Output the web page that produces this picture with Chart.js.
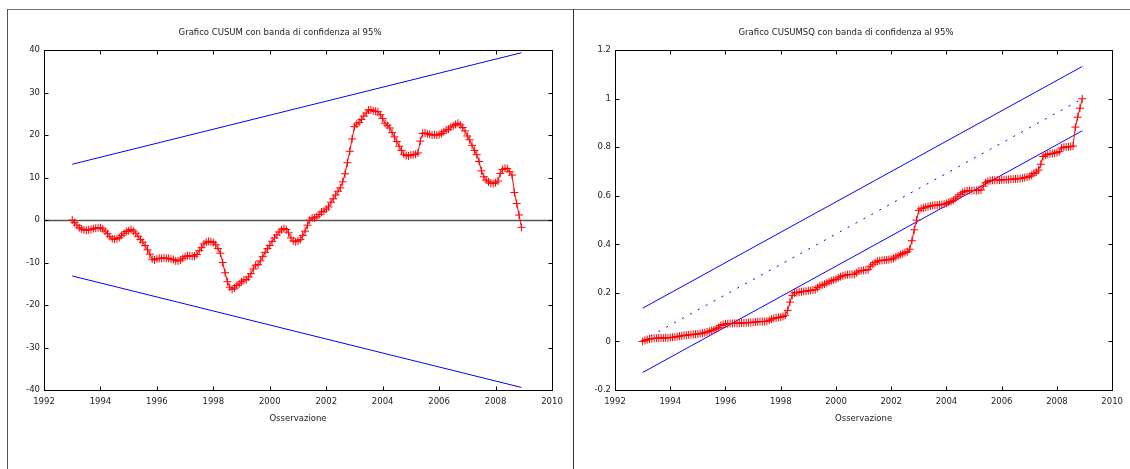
<!DOCTYPE html>
<html>
<head>
<meta charset="utf-8">
<script src="https://cdn.jsdelivr.net/npm/chart.js@4"></script>
<style>
html,body{margin:0;padding:0;background:#fff;}
body{width:1130px;height:469px;position:relative;overflow:hidden;font-family:"DejaVu Sans",sans-serif;}
.ln{position:absolute;background:#707070;}
#c1{position:absolute;left:8px;top:10px;}
#c2{position:absolute;left:574px;top:10px;}
</style>
</head>
<body>
<div class="ln" style="left:7px;top:9px;width:1123px;height:1px;"></div>
<div class="ln" style="left:7px;top:9px;width:1px;height:460px;background:#555;"></div>
<div class="ln" style="left:573px;top:9px;width:1px;height:460px;background:#333;"></div>
<canvas id="c1" width="565" height="459"></canvas>
<canvas id="c2" width="556" height="459"></canvas>
<script>
// ---- data (monthly observations 1993:01 - 2008:12) ----
const firstYear = 1993;
const periodsPerYear = 12;

const cusum = [
  0.0, -0.6, -1.2, -1.8, -2.1, -2.3, -2.4, -2.3, -2.2, -2.0, -1.9, -1.8,
  -1.8, -2.1, -2.6, -3.2, -3.9, -4.4, -4.5, -4.4, -4.1, -3.6, -3.1, -2.7,
  -2.5, -2.2, -2.6, -3.1, -3.8, -4.6, -5.2, -6.0, -7.0, -8.0, -9.2, -9.4,
  -9.1, -9.0, -9.0, -8.9, -9.0, -9.0, -9.2, -9.3, -9.6, -9.6, -9.4, -9.0,
  -8.6, -8.4, -8.4, -8.5, -8.5, -8.1, -7.2, -6.5, -5.6, -5.2, -5.0, -5.1,
  -5.3, -5.8, -6.7, -7.8, -10.0, -12.4, -14.5, -15.8, -16.3, -16.0, -15.4, -15.0,
  -14.5, -14.1, -14.0, -13.4, -12.6, -11.5, -10.6, -10.5, -9.6, -8.6, -7.6, -6.7,
  -6.0, -5.0, -4.2, -3.5, -2.8, -2.3, -2.0, -2.2, -3.0, -4.2, -4.9, -5.1,
  -4.9, -4.6, -3.6, -2.6, -1.2, 0.0, 0.5, 0.5, 0.8, 1.3, 1.9, 2.1,
  2.6, 3.1, 4.2, 5.0, 5.9, 6.8, 7.6, 9.0, 10.9, 13.5, 16.2, 19.1,
  22.0, 22.6, 23.0, 23.7, 24.5, 25.2, 25.9, 26.0, 25.7, 25.6, 25.5, 24.8,
  23.9, 22.8, 22.3, 21.7, 20.6, 19.6, 18.5, 17.4, 16.4, 15.5, 15.2, 15.1,
  15.3, 15.4, 15.5, 15.8, 18.6, 20.4, 20.5, 20.3, 20.2, 20.0, 20.1, 20.0,
  20.1, 20.4, 20.8, 21.2, 21.4, 21.9, 22.2, 22.5, 22.8, 22.4, 21.8, 21.0,
  19.8, 18.9, 17.6, 16.4, 15.4, 13.8, 11.6, 10.2, 9.4, 9.0, 8.7, 8.6,
  8.8, 9.2, 11.0, 11.9, 12.2, 12.1, 11.4, 10.6, 6.5, 3.9, 1.2, -1.7
];

const cusumsq = [
  0.000, 0.004, 0.008, 0.010, 0.012, 0.013, 0.013, 0.014, 0.014, 0.014, 0.015, 0.015,
  0.016, 0.017, 0.018, 0.020, 0.022, 0.023, 0.025, 0.026, 0.027, 0.028, 0.029, 0.030,
  0.031, 0.032, 0.034, 0.036, 0.039, 0.042, 0.045, 0.048, 0.053, 0.058, 0.066, 0.070,
  0.072, 0.073, 0.074, 0.074, 0.075, 0.075, 0.075, 0.076, 0.076, 0.077, 0.078, 0.078,
  0.079, 0.080, 0.081, 0.082, 0.082, 0.082, 0.083, 0.087, 0.092, 0.095, 0.097, 0.099,
  0.100, 0.103, 0.108, 0.128, 0.162, 0.190, 0.200, 0.201, 0.203, 0.205, 0.206, 0.207,
  0.209, 0.210, 0.212, 0.214, 0.222, 0.229, 0.232, 0.236, 0.240, 0.246, 0.250, 0.253,
  0.256, 0.262, 0.267, 0.270, 0.273, 0.275, 0.276, 0.276, 0.277, 0.283, 0.290, 0.292,
  0.293, 0.294, 0.296, 0.310, 0.318, 0.325, 0.331, 0.333, 0.334, 0.335, 0.336, 0.337,
  0.339, 0.343, 0.348, 0.353, 0.358, 0.362, 0.366, 0.370, 0.380, 0.415, 0.460, 0.500,
  0.540, 0.547, 0.550, 0.553, 0.556, 0.558, 0.560, 0.561, 0.562, 0.563, 0.564, 0.566,
  0.569, 0.573, 0.577, 0.582, 0.590, 0.598, 0.606, 0.613, 0.618, 0.621, 0.622, 0.622,
  0.622, 0.622, 0.623, 0.624, 0.640, 0.654, 0.660, 0.663, 0.664, 0.664, 0.665, 0.665,
  0.666, 0.666, 0.667, 0.667, 0.668, 0.669, 0.670, 0.670, 0.671, 0.673, 0.675, 0.677,
  0.680, 0.685, 0.692, 0.698, 0.706, 0.730, 0.762, 0.768, 0.771, 0.773, 0.774, 0.776,
  0.778, 0.782, 0.797, 0.800, 0.801, 0.802, 0.803, 0.805, 0.883, 0.924, 0.961, 1.000
];

// confidence bands: values at first and last observation
const bandX = [1993.0, 2008.917];
const cusumUpper = [13.15, 39.4];
const cusumLower = [-13.15, -39.4];
const sqUpper = [0.137, 1.133];
const sqLower = [-0.128, 0.868];
const sqMean = [0.005, 1.0];

const xTicks = { min: 1992, max: 2010, step: 2 };
const cusumTicks = { min: -40, max: 40, step: 10 };
const sqTicks = { min: -0.2, max: 1.2, step: 0.2 };

const titles = [
  'Grafico CUSUM con banda di confidenza al 95%',
  'Grafico CUSUMSQ con banda di confidenza al 95%'
];
const xTitle = 'Osservazione';

// ---- helpers ----
const obsX = i => firstYear + i / periodsPerYear;
const toPts = arr => arr.map((v, i) => ({ x: obsX(i), y: v }));
const bandPts = arr => arr.map((v, i) => ({ x: bandX[i], y: v }));

const FONT = '"DejaVu Sans"';
const FS = 8.5;

const framePlugin = {
  id: 'frame',
  beforeDatasetsDraw(chart, args, opts) {
    if (!opts.zeroLine) return;
    const { ctx, chartArea: a, scales: { y } } = chart;
    const py = Math.round(y.getPixelForValue(0)) + 0.5;
    ctx.save();
    ctx.strokeStyle = '#555';
    ctx.lineWidth = 1.5;
    ctx.beginPath();
    ctx.moveTo(a.left, py);
    ctx.lineTo(a.right, py);
    ctx.stroke();
    ctx.restore();
  },
  afterDraw(chart) {
    const { ctx, chartArea: a, scales: { x, y } } = chart;
    const L = Math.round(a.left) + 0.5, R = Math.round(a.right) + 0.5;
    const T = Math.round(a.top) + 0.5, B = Math.round(a.bottom) + 0.5;
    ctx.save();
    ctx.strokeStyle = '#000';
    ctx.lineWidth = 1;
    ctx.strokeRect(L, T, R - L, B - T);
    ctx.beginPath();
    const tl = 4;
    x.ticks.forEach(t => {
      const px = Math.round(x.getPixelForValue(t.value)) + 0.5;
      ctx.moveTo(px, B); ctx.lineTo(px, B - tl);
      ctx.moveTo(px, T); ctx.lineTo(px, T + tl);
    });
    y.ticks.forEach(t => {
      const py = Math.round(y.getPixelForValue(t.value)) + 0.5;
      ctx.moveTo(L, py); ctx.lineTo(L + tl, py);
      ctx.moveTo(R, py); ctx.lineTo(R - tl, py);
    });
    ctx.stroke();
    ctx.restore();
  }
};

function makeChart(canvasId, title, series, bands, yt, yLabelFmt, yWidth, padRight, zeroLine) {
  const datasets = [
    {
      data: toPts(series),
      borderColor: '#ff0000',
      borderWidth: 1,
      pointStyle: 'cross',
      pointRadius: 4,
      pointBorderColor: '#ff0000',
      pointBorderWidth: 1,
      showLine: true,
      order: 1
    }
  ].concat(bands.map(b => ({
    data: bandPts(b.values),
    borderColor: '#0000ff',
    borderWidth: 1,
    borderDash: b.dash || [],
    pointRadius: 0,
    showLine: true,
    order: 2
  })));

  return new Chart(document.getElementById(canvasId), {
    type: 'scatter',
    data: { datasets },
    plugins: [framePlugin],
    options: {
      responsive: false,
      animation: false,
      devicePixelRatio: 1,
      layout: { padding: { left: 0, right: padRight, top: 0, bottom: 0 } },
      plugins: {
        legend: { display: false },
        tooltip: { enabled: false },
        frame: { zeroLine },
        title: {
          display: true,
          text: title,
          color: '#222',
          font: { family: FONT, size: FS, weight: 'normal', lineHeight: 1.2 },
          padding: { top: 18, bottom: 12 }
        }
      },
      scales: {
        x: {
          type: 'linear',
          min: xTicks.min, max: xTicks.max,
          grid: { display: false, drawTicks: false, tickLength: 0 },
          border: { display: false },
          ticks: {
            stepSize: xTicks.step,
            padding: 7,
            color: '#222',
            font: { family: FONT, size: FS, lineHeight: 1.2 },
            maxRotation: 0,
            autoSkip: false,
            callback: v => String(v)
          },
          title: {
            display: true,
            text: xTitle,
            color: '#222',
            font: { family: FONT, size: FS, lineHeight: 1.2 },
            padding: { top: 0, bottom: 45 }
          },
          afterFit: s => { s.height = 79; }
        },
        y: {
          type: 'linear',
          min: yt.min, max: yt.max,
          grid: { display: false, drawTicks: false, tickLength: 0 },
          border: { display: false },
          ticks: {
            stepSize: yt.step,
            padding: 4,
            color: '#222',
            font: { family: FONT, size: FS, lineHeight: 1.2 },
            autoSkip: false,
            callback: yLabelFmt
          },
          afterFit: s => { s.width = yWidth; }
        }
      }
    }
  });
}

makeChart('c1', titles[0], cusum,
  [{ values: cusumUpper }, { values: cusumLower }],
  cusumTicks, v => String(Math.round(v)), 36, 21, true);

makeChart('c2', titles[1], cusumsq,
  [{ values: sqUpper }, { values: sqLower }, { values: sqMean, dash: [2, 7] }],
  sqTicks, v => String(Number(v.toFixed(1))), 41, 12, false);
</script>
</body>
</html>
